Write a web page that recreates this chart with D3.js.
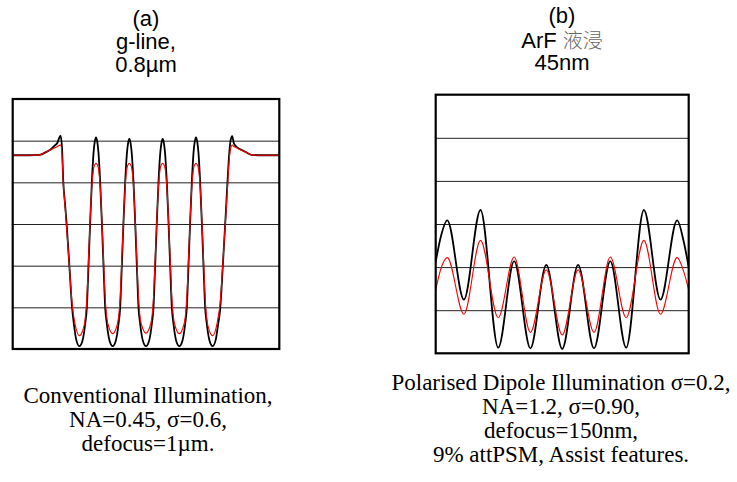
<!DOCTYPE html>
<html>
<head>
<meta charset="utf-8">
<script src="https://cdn.jsdelivr.net/npm/d3@7"></script>
<style>
  body { margin: 0; background: #fff; }
  svg { display: block; }
</style>
</head>
<body>
<div id="chart"></div>
<script>
// Panel (a): g-line, 0.8um lines, position in um
const xA = [
  -6.4, -5.6, -5.1, -4.8, -4.55, -4.4, -4.25, -4.18, -4.1, -4.03, -3.97, -3.89, -3.81, -3.68, -3.55, -3.45, -3.35,
  -3.2, -3.05, -2.92, -2.84, -2.76, -2.68, -2.6, -2.52, -2.46, -2.4, -2.34, -2.28, -2.2, -2.12, -2.04, -1.96, -1.88, -1.75,
  -1.6, -1.45, -1.32, -1.24, -1.16, -1.08, -1.0, -0.92, -0.86, -0.8, -0.74, -0.68, -0.6, -0.52, -0.44, -0.36, -0.28, -0.15,
  0, 0.15, 0.28, 0.36, 0.44, 0.52, 0.6, 0.68, 0.74, 0.8, 0.86, 0.92, 1.0, 1.08, 1.16, 1.24, 1.32, 1.45,
  1.6, 1.75, 1.88, 1.96, 2.04, 2.12, 2.2, 2.28, 2.34, 2.4, 2.46, 2.52, 2.6, 2.68, 2.76, 2.84, 2.92, 3.05,
  3.2, 3.35, 3.45, 3.56, 3.7, 3.83, 3.91, 3.99, 4.06, 4.14, 4.21, 4.3, 4.45, 4.6, 4.8, 5.07, 5.6, 6.4
];
const blackA = [
  0.93, 0.93, 0.932, 0.945, 0.96, 0.975, 0.99, 1.01, 1.024, 0.96, 0.8, 0.7, 0.6, 0.4, 0.2, 0.11, 0.045,
  0.014, 0.04, 0.12, 0.2, 0.4, 0.61, 0.8, 0.94, 0.995, 1.016, 0.995, 0.94, 0.8, 0.61, 0.4, 0.2, 0.12, 0.04,
  0.014, 0.04, 0.12, 0.2, 0.4, 0.61, 0.8, 0.935, 0.988, 1.008, 0.988, 0.935, 0.8, 0.61, 0.4, 0.2, 0.12, 0.04,
  0.014, 0.04, 0.12, 0.2, 0.4, 0.61, 0.8, 0.935, 0.988, 1.008, 0.988, 0.935, 0.8, 0.61, 0.4, 0.2, 0.12, 0.04,
  0.014, 0.04, 0.12, 0.2, 0.4, 0.61, 0.8, 0.94, 0.995, 1.016, 0.995, 0.94, 0.8, 0.61, 0.4, 0.2, 0.12, 0.04,
  0.014, 0.045, 0.11, 0.19, 0.42, 0.65, 0.8, 0.93, 1.0, 1.022, 0.99, 0.975, 0.963, 0.955, 0.945, 0.932, 0.93, 0.93
];
const redA = [
  0.93, 0.93, 0.932, 0.945, 0.958, 0.965, 0.972, 0.977, 0.98, 0.93, 0.79, 0.69, 0.58, 0.4, 0.22, 0.145, 0.095,
  0.064, 0.085, 0.145, 0.245, 0.43, 0.62, 0.78, 0.865, 0.885, 0.891, 0.885, 0.865, 0.78, 0.62, 0.43, 0.25, 0.15, 0.095,
  0.074, 0.095, 0.15, 0.25, 0.43, 0.62, 0.78, 0.865, 0.885, 0.891, 0.885, 0.865, 0.78, 0.62, 0.43, 0.25, 0.15, 0.097,
  0.076, 0.097, 0.15, 0.25, 0.43, 0.62, 0.78, 0.865, 0.885, 0.891, 0.885, 0.865, 0.78, 0.62, 0.43, 0.25, 0.15, 0.095,
  0.074, 0.095, 0.15, 0.25, 0.43, 0.62, 0.78, 0.865, 0.885, 0.891, 0.885, 0.865, 0.78, 0.62, 0.43, 0.245, 0.145, 0.085,
  0.064, 0.095, 0.145, 0.22, 0.43, 0.64, 0.77, 0.9, 0.96, 0.979, 0.972, 0.968, 0.96, 0.953, 0.944, 0.932, 0.93, 0.93
];

// Panel (b): ArF immersion, 45nm lines, position in nm
const xB = [-350, -336, -318, -272, -226, -177, -133, -88, -44, 0, 44, 88, 133, 177, 226, 272, 318, 336, 350];
const blackB = [0.425, 0.54, 0.617, 0.249, 0.665, 0.026, 0.428, 0.023, 0.41, 0.02, 0.41, 0.023, 0.428, 0.026, 0.665, 0.249, 0.617, 0.52, 0.40];
const redB = [0.294, 0.39, 0.444, 0.181, 0.524, 0.165, 0.447, 0.097, 0.387, 0.085, 0.387, 0.097, 0.447, 0.165, 0.524, 0.181, 0.444, 0.38, 0.294];

const gridValues = [0.2, 0.4, 0.6, 0.8, 1.0];

const titleA = ["(a)", "g-line,", "0.8µm"];
const titleB = ["(b)", "ArF ", "45nm"];
const titleBCjk = "液浸";
const captionA = ["Conventional Illumination,", "NA=0.45, σ=0.6,", "defocus=1µm."];
const captionB = ["Polarised Dipole Illumination σ=0.2,", "NA=1.2, σ=0.90,", "defocus=150nm,", "9% attPSM, Assist features."];

const width = 737, height = 482;

const svg = d3.select('#chart').append('svg')
  .attr('width', width)
  .attr('height', height);

// draw one panel box with grid lines and both curves
const drawPanel = (id, xs, black, red, xDomain, box) => {
  const x = d3.scaleLinear().domain(xDomain).range([box.left, box.right]);
  const y = d3.scaleLinear().domain([0, 1.2]).range([box.bottom, box.top]);

  svg.append('clipPath').attr('id', id)
    .append('rect')
    .attr('x', box.left).attr('y', box.top)
    .attr('width', box.right - box.left).attr('height', box.bottom - box.top);

  const grid = svg.append('g')
    .attr('transform', `translate(${box.left},0)`)
    .call(d3.axisLeft(y).tickValues(gridValues).tickSize(-(box.right - box.left)).tickFormat(''));
  grid.select('.domain').remove();
  grid.selectAll('.tick line').attr('stroke', '#222').attr('stroke-width', 1);

  const line = (vals) => d3.line()
    .x((d, i) => x(xs[i]))
    .y(d => y(d))
    .curve(d3.curveMonotoneX)(vals);

  const g = svg.append('g').attr('clip-path', `url(#${id})`);
  g.append('path').attr('d', line(black))
    .attr('fill', 'none').attr('stroke', '#000').attr('stroke-width', 1.8);
  g.append('path').attr('d', line(red))
    .attr('fill', 'none').attr('stroke', '#ff0000').attr('stroke-width', 1.1);

  svg.append('rect')
    .attr('x', box.left).attr('y', box.top)
    .attr('width', box.right - box.left).attr('height', box.bottom - box.top)
    .attr('fill', 'none').attr('stroke', '#000').attr('stroke-width', 2.2);
};

drawPanel('clipA', xA, blackA, redA, [-6.4, 6.4], { left: 12.7, right: 279.3, top: 99, bottom: 349 });
drawPanel('clipB', xB, blackB, redB, [-350, 350], { left: 435.7, right: 688.7, top: 94.7, bottom: 353.3 });

// titles
const titleFont = '"Liberation Sans", Arial, sans-serif';
titleA.forEach((t, i) => {
  svg.append('text').attr('x', 146).attr('y', 26 + i * 23)
    .attr('text-anchor', 'middle').style('font-family', titleFont).style('font-size', '22px')
    .text(t);
});
const titleBY = [23, 48, 70];
titleB.forEach((t, i) => {
  const txt = svg.append('text').attr('x', 562).attr('y', titleBY[i])
    .attr('text-anchor', 'middle').style('font-family', titleFont).style('font-size', '22px')
    .text(t);
  if (i === 1) {
    txt.append('tspan')
      .style('font-family', '"Noto Sans CJK SC", sans-serif')
      .style('font-size', '20px')
      .style('font-weight', 300)
      .attr('fill', '#666')
      .text(titleBCjk);
  }
});

// captions
const capFont = '"Liberation Serif", "Times New Roman", serif';
captionA.forEach((t, i) => {
  svg.append('text').attr('x', 148).attr('y', 403 + i * 24)
    .attr('text-anchor', 'middle').style('font-family', capFont).style('font-size', '23px')
    .text(t);
});
captionB.forEach((t, i) => {
  svg.append('text').attr('x', 561).attr('y', 390 + i * 24)
    .attr('text-anchor', 'middle').style('font-family', capFont).style('font-size', '23px')
    .text(t);
});
</script>
</body>
</html>
